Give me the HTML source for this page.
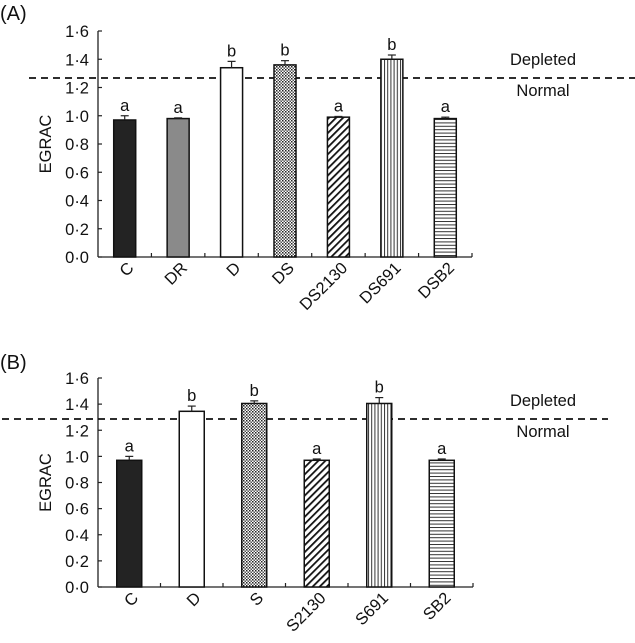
<!DOCTYPE html>
<html><head><meta charset="utf-8">
<style>
html,body{margin:0;padding:0;background:#fff;}
svg{display:block;font-family:"Liberation Sans",Arial,sans-serif;}
</style></head>
<body>
<svg id="chart" width="635" height="643" viewBox="0 0 635 643" xmlns="http://www.w3.org/2000/svg">
<defs>
<pattern id="pat-dots" width="3" height="3" patternUnits="userSpaceOnUse">
<rect width="3" height="3" fill="#fff"/><rect x="0" y="0" width="1.5" height="1.5" fill="#222"/><rect x="1.5" y="1.5" width="1.5" height="1.5" fill="#555"/>
</pattern>
<pattern id="pat-diag" width="5" height="5" patternUnits="userSpaceOnUse" patternTransform="rotate(45)">
<rect width="5" height="5" fill="#fff"/><rect x="0" y="0" width="1.8" height="5" fill="#111"/>
</pattern>
<pattern id="pat-vert" width="3.2" height="4" patternUnits="userSpaceOnUse">
<rect width="3.2" height="4" fill="#fff"/><rect x="0" y="0" width="1" height="4" fill="#333"/>
</pattern>
<pattern id="pat-horiz" width="4" height="3.4" patternUnits="userSpaceOnUse">
<rect width="4" height="3.4" fill="#fff"/><rect x="0" y="0" width="4" height="1" fill="#333"/>
</pattern>
</defs>
</svg>
<script>
// Panel A data
const catsA = ["C","DR","D","DS","DS2130","DS691","DSB2"];
const valsA = [0.97,0.98,1.34,1.36,0.99,1.40,0.98];
const errA = [0.03,0.005,0.045,0.03,0.005,0.03,0.01];
const lettersA = ["a","a","b","b","a","b","a"];
const fillsA = ["#232323","#8a8a8a","#fff","url(#pat-dots)","url(#pat-diag)","url(#pat-vert)","url(#pat-horiz)"];
const thresholdA = 1.267;
// Panel B data
const catsB = ["C","D","S","S2130","S691","SB2"];
const valsB = [0.97,1.345,1.405,0.97,1.405,0.97];
const errB = [0.03,0.04,0.02,0.01,0.045,0.01];
const lettersB = ["a","b","b","a","b","a"];
const fillsB = ["#232323","#fff","url(#pat-dots)","url(#pat-diag)","url(#pat-vert)","url(#pat-horiz)"];
const thresholdB = 1.286;
// Axis ticks
const yTicks = [0,0.2,0.4,0.6,0.8,1.0,1.2,1.4,1.6];
const yTickLabels = ["0·0","0·2","0·4","0·6","0·8","1·0","1·2","1·4","1·6"];

const NS="http://www.w3.org/2000/svg";
const svg=document.getElementById('chart');
const FS=16.5;
function mk(tag,attrs,parent,text){const e=document.createElementNS(NS,tag);for(const k in attrs)e.setAttribute(k,attrs[k]);if(text!==undefined)e.textContent=text;(parent||svg).appendChild(e);return e;}

function panel(p){
  const g=mk('g',{});
  
  
  const yScale=v=>p.y0-(v/1.6)*(p.y0-p.y1);
  const n=p.cats.length, cw=(p.x1-p.x0)/n;
  const xc=i=>p.x0+cw*(i+0.5);
  const lab=mk('text',{x:0,y:p.labelY,'font-size':20,fill:'#111'},g,'('+p.id+')');
  
  
  const yt=mk('text',{x:0,y:0,'font-size':FS,fill:'#111','text-anchor':'middle',transform:`translate(51,${(p.y0+p.y1)/2}) rotate(-90)`},g,'EGRAC');
  
  
  const ya=mk('line',{x1:p.x0,y1:p.y1,x2:p.x0,y2:p.y0,stroke:'#222','stroke-width':1.3},g);
  
  
  yTicks.forEach((t,i)=>{
    const y=yScale(t);
    mk('line',{x1:p.x0,y1:y,x2:p.x0+4,y2:y,stroke:'#222','stroke-width':1.2},g);
    const tl=mk('text',{x:p.x0-9,y:y+6,'font-size':FS,fill:'#111','text-anchor':'end'},g,yTickLabels[i]);
    
    
  });
  const xa=mk('line',{x1:p.x0,y1:p.y0,x2:p.x1,y2:p.y0,stroke:'#222','stroke-width':1.3},g);
  
  
  for(let i=1;i<=n;i++){const x=p.x0+cw*i;mk('line',{x1:x,y1:p.y0,x2:x,y2:p.y0-4,stroke:'#222','stroke-width':1.2},g);}
  const ty=yScale(p.thr);
  const dl=mk('line',{x1:p.dashX0,y1:ty,x2:p.dashX1,y2:ty,stroke:'#111','stroke-width':1.8,'stroke-dasharray':'7,5'},g);
  
  
  const t1=mk('text',{x:543,y:ty-13,'font-size':FS,fill:'#111','text-anchor':'middle'},g,'Depleted');
  
  
  const t2=mk('text',{x:543,y:ty+18,'font-size':FS,fill:'#111','text-anchor':'middle'},g,'Normal');
  
  
  p.cats.forEach((c,i)=>{
    const x=xc(i), top=yScale(p.vals[i]);
    const r=mk('rect',{x:x-p.bw/2,y:top,width:p.bw,height:p.y0-top,fill:p.fills[i],stroke:'#111','stroke-width':1.5},g);
    
    
    const et=yScale(p.vals[i]+p.err[i]);
    mk('line',{x1:x,y1:top,x2:x,y2:et,stroke:'#222','stroke-width':1.2},g);
    mk('line',{x1:x-4,y1:et,x2:x+4,y2:et,stroke:'#222','stroke-width':1.2},g);
    const lt=mk('text',{x:x,y:et-5,'font-size':FS,fill:'#111','text-anchor':'middle'},g,p.letters[i]);
    
    
    const xl=mk('text',{x:0,y:0,'font-size':FS,fill:'#111','text-anchor':'end',transform:`translate(${x+10},${p.y0+12}) rotate(-45)`},g,c);
    
    
  });
}
panel({id:'A',cats:catsA,vals:valsA,err:errA,letters:lettersA,fills:fillsA,thr:thresholdA,x0:98,x1:472,y0:257,y1:31,bw:22,labelY:20,dashX0:29,dashX1:635});
panel({id:'B',cats:catsB,vals:valsB,err:errB,letters:lettersB,fills:fillsB,thr:thresholdB,x0:98,x1:473,y0:587,y1:378,bw:25,labelY:369,dashX0:2,dashX1:608});
</script>
</body></html>
